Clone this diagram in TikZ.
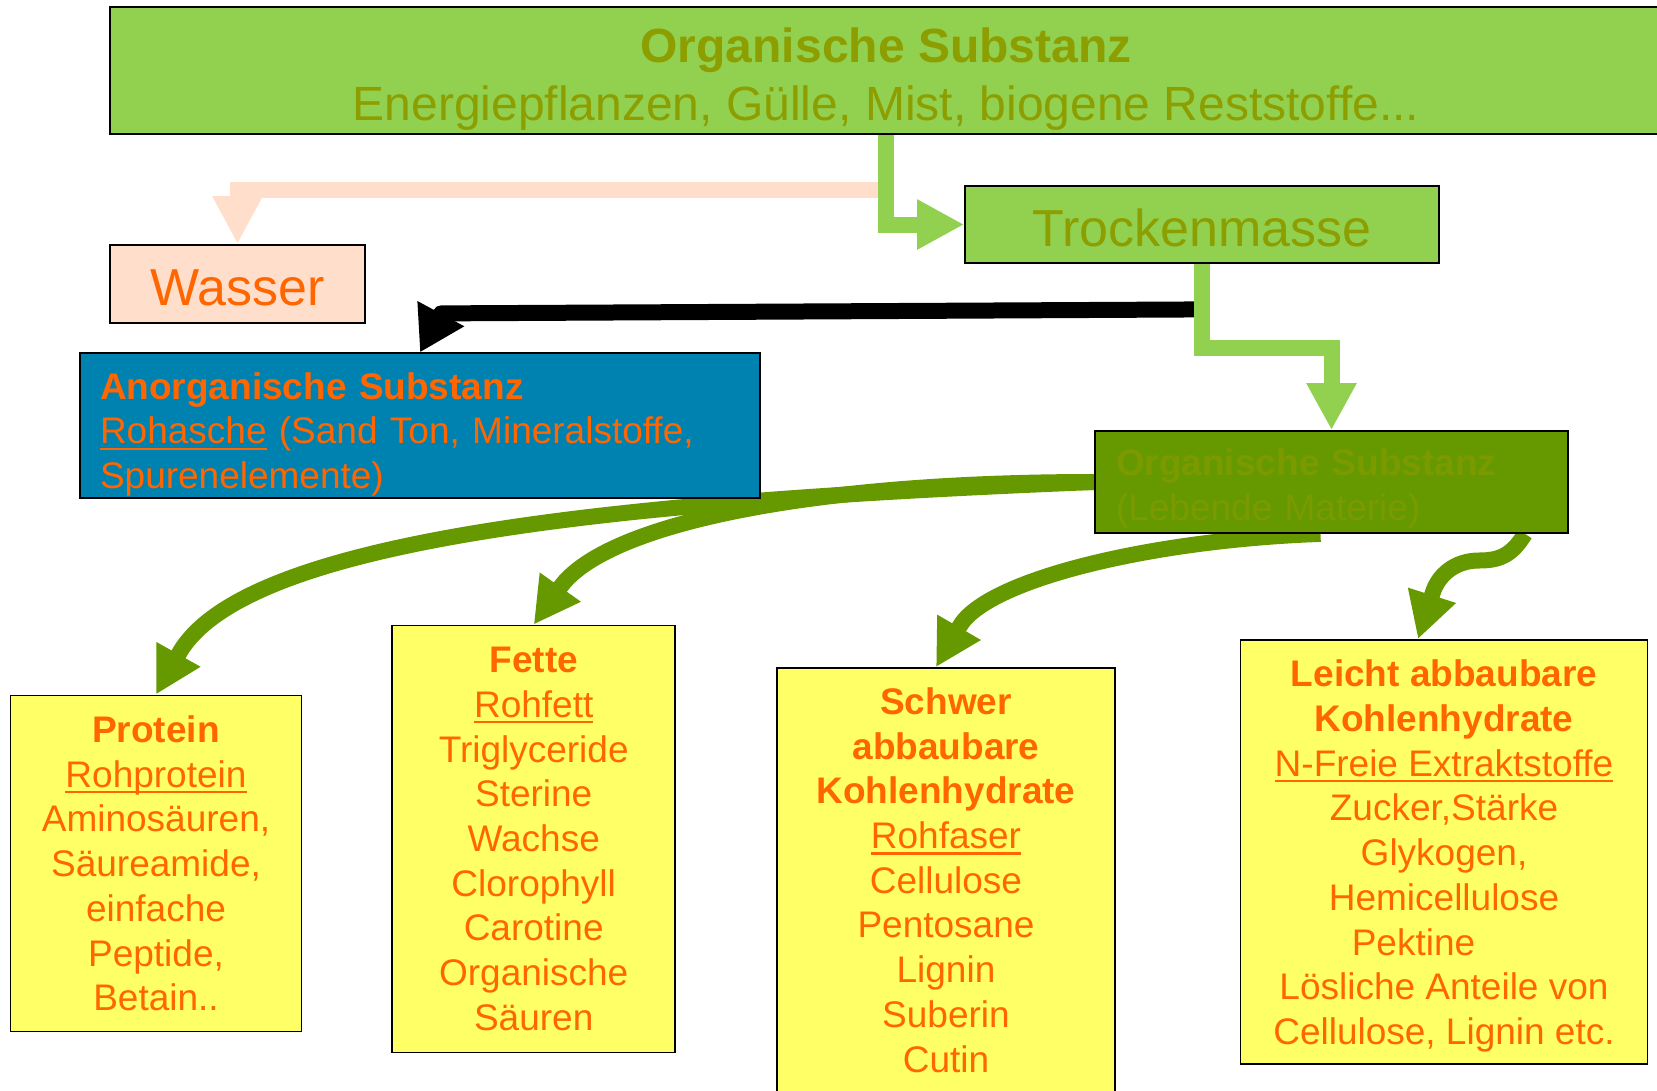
\documentclass[tikz,border=0pt]{standalone}
\usepackage{fontspec}
\setmainfont{Liberation Sans}
\usetikzlibrary{arrows.meta,positioning,calc,backgrounds}

\definecolor{lgreen}{HTML}{92D050}
\definecolor{dgreen}{HTML}{669900}
\definecolor{olivetxt}{RGB}{140,158,0}
\definecolor{olivedim}{RGB}{122,154,0}
\definecolor{peach}{RGB}{255,223,204}
\definecolor{ablue}{RGB}{0,130,176}
\definecolor{lyellow}{HTML}{FFFF66}
\definecolor{otxt}{HTML}{FF6600}

\newcommand{\ulword}[1]{\leavevmode\setbox0=\hbox{#1}\rlap{\rule[-6pt]{\wd0}{2.2pt}}\box0\relax}

\newcommand{\fsmain}{\fontsize{37}{44.7}\selectfont}
\newcommand{\fstitle}{\fontsize{48}{57.3}\selectfont}
\newcommand{\fsbig}{\fontsize{52}{60}\selectfont}

\begin{document}
\begin{tikzpicture}[x=1pt, y=-1pt,
  box/.style={draw, line width=1.8pt, inner sep=0pt, align=center, font=\fsmain, text=otxt},
  srcbox/.style={box, fill=lgreen, text=olivetxt},
  listbox/.style={box, fill=lyellow},
  arr/.style={line width=16pt, -{Triangle[length=47pt, width=47pt]}},
  curvarr/.style={draw=dgreen, line width=16pt, line join=round, -{Triangle[length=46pt, width=47pt]}}
]
\useasboundingbox (0,0) rectangle (1657,1090);

\node[srcbox, font=\fstitle, minimum width=1552pt, minimum height=127pt] (orgtop) at (886,70.5) {\rule{0pt}{52pt}\textbf{Organische Substanz}\\Energiepflanzen, Gülle, Mist, biogene Reststoffe...};
\node[srcbox, font=\fsbig, minimum width=474pt, minimum height=77pt] (trocken) at (1202,224.5) {\rule{0pt}{44pt}Trockenmasse};
\node[box, fill=peach, font=\fsbig, minimum width=255pt, minimum height=78pt] (wasser) at (237.5,284) {\rule{0pt}{44pt}Wasser};

\node[box, fill=ablue, align=left, text width=640pt, inner xsep=20pt, minimum height=145pt] (anorg) at (420,425.8) {\rule{0pt}{43.5pt}\textbf{Anorganische Substanz}\\\ulword{Rohasche} (Sand Ton, Mineralstoffe,\\Spurenelemente)};
\node[box, fill=dgreen, text=olivedim, align=left, text width=431pt, inner xsep=21pt, minimum height=102pt] (lebend) at (1331.5,482) {\rule{0pt}{40pt}\textbf{Organische Substanz}\\(Lebende Materie)};

\node[listbox, minimum width=291pt, minimum height=336pt] (protein) at (156,863.4) {\textbf{Protein}\\\ulword{Rohprotein}\\Aminosäuren,\\Säureamide,\\einfache\\Peptide,\\Betain..};
\node[listbox, minimum width=283pt, minimum height=427pt] (fette) at (533.7,839) {\textbf{Fette}\\\ulword{Rohfett}\\Triglyceride\\Sterine\\Wachse\\Clorophyll\\Carotine\\Organische\\Säuren};
\node[listbox, minimum width=338pt, minimum height=424pt] (schwer) at (946,880) {\textbf{Schwer}\\\textbf{abbaubare}\\\textbf{Kohlenhydrate}\\\ulword{Rohfaser}\\Cellulose\\Pentosane\\Lignin\\Suberin\\Cutin};
\node[listbox, minimum width=407pt, minimum height=424pt] (leicht) at (1444,852) {\rule{0pt}{35pt}\textbf{Leicht abbaubare}\\\textbf{Kohlenhydrate}\\\ulword{N-Freie Extraktstoffe}\\Zucker,Stärke\\Glykogen,\\Hemicellulose\\Pektine\rule{61pt}{0pt}\\Lösliche Anteile von\\Cellulose, Lignin etc.};

\begin{pgfonlayer}{background}
\coordinate (wsplit) at ($(orgtop.south)+(0,55.5)$);
\coordinate (tsplit) at ($(trocken.south)+(0,45.5)$);
\draw[arr, draw=peach, -{Triangle[length=48pt, width=47pt]}] (wsplit) -| (wasser.north);
\draw[arr, draw=black, line join=round, -{Triangle[length=44pt, width=50pt]}] (tsplit) -- ($(anorg.north)+(21,-39)$) -- (anorg.north);
\draw[arr, draw=lgreen] (orgtop.south) |- (trocken.west);
\draw[arr, draw=lgreen] (trocken.south) -- ++(0,84) -| (lebend.north);
\draw[curvarr] (lebend.west) .. controls (650,500) and (247,534) .. ($(protein.north)+(23,-41)$) -- (protein.north);
\draw[curvarr] (lebend.west) .. controls (800,482) and (605,526) .. ($(fette.north)+(27,-38)$) -- (fette.north);
\draw[curvarr] ([xshift=-11pt]lebend.south) .. controls (1150,540) and (986,580) .. ($(schwer.north)+(13.5,-40.5)$) -- ($(schwer.north)+(-10,0)$);
\draw[curvarr] ([xshift=-44pt]lebend.south east) .. controls (1512,555) and (1500,560.5) .. (1479,560.5) .. controls (1455,560.5) and (1438,575) .. ($(leicht.north)+(-11.5,-45.5)$) -- ($(leicht.north)+(-26,0)$);
\end{pgfonlayer}
\end{tikzpicture}
\end{document}
